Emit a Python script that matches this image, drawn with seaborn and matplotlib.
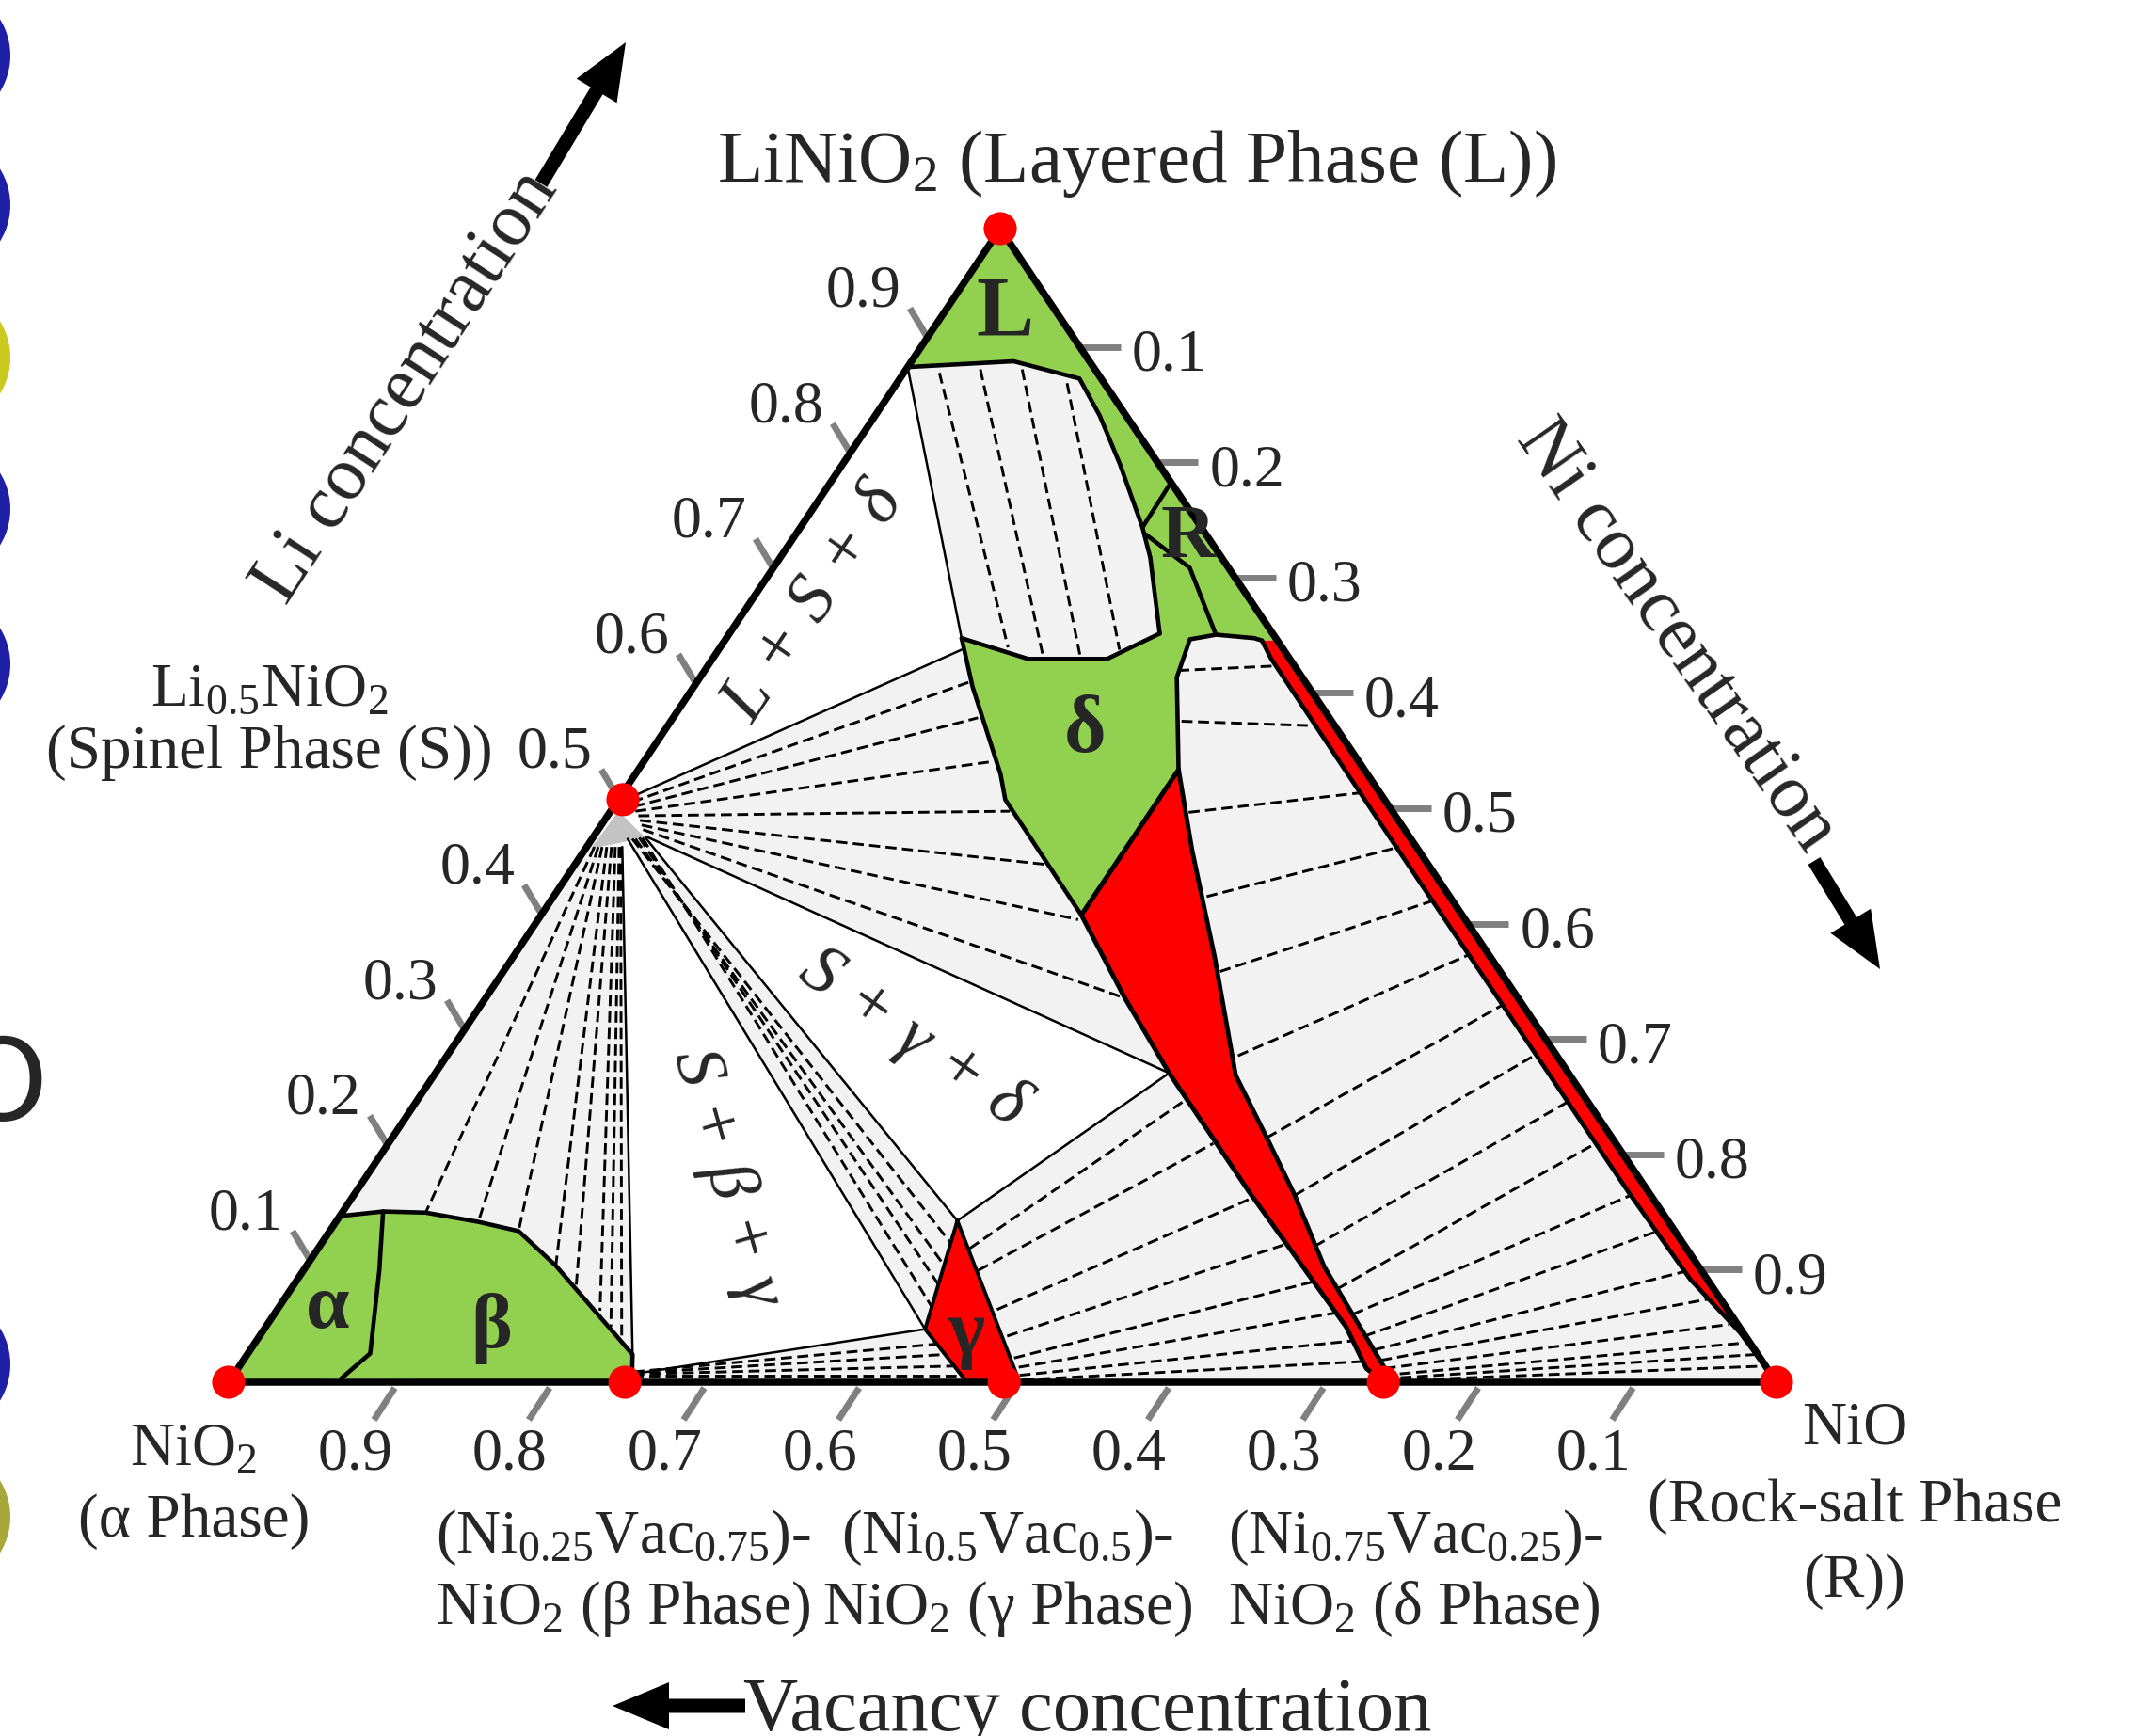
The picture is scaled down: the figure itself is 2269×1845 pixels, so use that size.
import numpy as np
import pandas as pd
import seaborn as sns
import matplotlib.pyplot as plt
from matplotlib.patches import Circle, FancyArrow

sns.set_theme(style="white")
plt.rcParams['font.family'] = ['Liberation Serif', 'DejaVu Serif']
plt.rcParams['mathtext.fontset'] = 'custom'
plt.rcParams['mathtext.rm'] = 'Liberation Serif'
plt.rcParams['mathtext.it'] = 'Liberation Serif:italic'
plt.rcParams['mathtext.bf'] = 'Liberation Serif:bold'
plt.rcParams['mathtext.default'] = 'rm'

# ---- data: compositions as (Li, Ni) fractions, vacancy = 1 - Li - Ni ----
marker_li = [1.0, 0.505, 0.0, 0.0, 0.0, 0.0, 0.0]
marker_ni = [0.0, 0.003, 0.0, 0.256, 0.501, 0.746, 1.0]

green_top = [(1.0, 0.0), (0.643, 0.357), (0.643, 0.347), (0.645, 0.341), (0.648, 0.315),
             (0.644, 0.300), (0.611, 0.308), (0.531, 0.349), (0.405, 0.349), (0.505, 0.250),
             (0.527, 0.236), (0.603, 0.180), (0.645, 0.152), (0.880, 0.0)]
green_alpha = [(0.0, 0.0), (0.144, 0.0), (0.148, 0.026), (0.097, 0.049), (0.025, 0.079), (0.003, 0.071)]
green_beta = [(0.148, 0.026), (0.147, 0.054), (0.139, 0.092), (0.131, 0.122), (0.101, 0.161),
              (0.024, 0.249), (0.001, 0.260), (0.003, 0.071), (0.025, 0.079), (0.097, 0.049)]

red_gamma = [(0.140, 0.401), (0.046, 0.427), (0.0, 0.477), (0.0, 0.511)]
red_gd = [(0.531, 0.349), (0.462, 0.392), (0.369, 0.453), (0.266, 0.518), (0.212, 0.565),
          (0.162, 0.608), (0.100, 0.658), (0.048, 0.707), (0.012, 0.741), (0.0, 0.746),
          (0.012, 0.729), (0.048, 0.698), (0.105, 0.639), (0.165, 0.577), (0.219, 0.523),
          (0.268, 0.474), (0.333, 0.413), (0.405, 0.349)]
red_edge = [(0.643, 0.347), (0.643, 0.357), (0.0, 1.0), (0.043, 0.955), (0.089, 0.900),
            (0.164, 0.823), (0.465, 0.522), (0.627, 0.361)]

gray_Sbeta = [(0.4625, 0.0), (0.144, 0.0), (0.148, 0.026), (0.147, 0.054), (0.139, 0.092),
              (0.131, 0.122), (0.101, 0.161), (0.024, 0.249), (0.464, 0.023)]
gray_betagamma = [(0.007, 0.257), (0.046, 0.427), (0.0, 0.477), (0.0, 0.261)]
gray_Sgamma = [(0.471, 0.023), (0.472, 0.034), (0.140, 0.401), (0.046, 0.427)]
gray_Sdelta = [(0.507, 0.007), (0.635, 0.157), (0.603, 0.180), (0.527, 0.236), (0.505, 0.250),
               (0.405, 0.349), (0.333, 0.413), (0.268, 0.474), (0.473, 0.034)]
gray_gd = [(0.140, 0.401), (0.268, 0.474), (0.219, 0.523), (0.165, 0.577), (0.105, 0.639),
           (0.048, 0.698), (0.012, 0.729), (0.0, 0.746), (0.0, 0.511)]
gray_Ldelta = [(0.880, 0.0), (0.885, 0.066), (0.870, 0.116), (0.838, 0.145), (0.796, 0.179),
               (0.741, 0.221), (0.715, 0.239), (0.649, 0.278), (0.627, 0.255), (0.627, 0.204),
               (0.645, 0.152)]
gray_Rdelta = [(0.644, 0.300), (0.648, 0.315), (0.645, 0.341), (0.643, 0.347), (0.627, 0.361),
               (0.465, 0.522), (0.164, 0.823), (0.089, 0.900), (0.043, 0.955), (0.0, 1.0),
               (0.0, 0.746), (0.012, 0.741), (0.048, 0.707), (0.100, 0.658), (0.162, 0.608),
               (0.212, 0.565), (0.266, 0.518), (0.369, 0.453), (0.462, 0.392), (0.531, 0.349),
               (0.611, 0.308)]
spinel_single = [(0.495, 0.005), (0.4625, 0.0035), (0.472, 0.034)]

# phase boundaries
bound_L = [(0.880, 0.0), (0.885, 0.066), (0.870, 0.116), (0.838, 0.145), (0.796, 0.179),
           (0.741, 0.221), (0.715, 0.239), (0.649, 0.278)]
bound_LR = [(0.780, 0.220), (0.741, 0.221)]
bound_Rd = [(0.735, 0.226), (0.706, 0.269), (0.649, 0.314)]
bound_dtop = [(0.645, 0.152), (0.627, 0.204), (0.627, 0.255), (0.649, 0.278)]
bound_dleft = [(0.645, 0.152), (0.603, 0.180), (0.527, 0.236), (0.505, 0.250), (0.405, 0.349)]
bound_dright = [(0.643, 0.347), (0.645, 0.341), (0.648, 0.315), (0.644, 0.300), (0.611, 0.308),
                (0.531, 0.349), (0.405, 0.349)]
bound_edge = [(0.643, 0.347), (0.627, 0.361), (0.465, 0.522), (0.164, 0.823), (0.089, 0.900),
              (0.043, 0.955), (0.0, 1.0)]
bound_ab = [(0.144, 0.0), (0.148, 0.026), (0.097, 0.049), (0.025, 0.079), (0.003, 0.071)]
bound_beta = [(0.148, 0.026), (0.147, 0.054), (0.139, 0.092), (0.131, 0.122), (0.101, 0.161),
              (0.024, 0.249), (0.001, 0.260)]

# solid tie-triangle edges
solid_start = [(0.507, 0.007), (0.473, 0.034), (0.472, 0.034), (0.471, 0.023), (0.464, 0.023),
               (0.007, 0.257), (0.140, 0.401), (0.880, 0.0)]
solid_end = [(0.635, 0.157), (0.268, 0.474), (0.140, 0.401), (0.046, 0.427), (0.024, 0.249),
             (0.046, 0.427), (0.268, 0.474), (0.645, 0.152)]

# dashed tie lines
tie_Ld_start = [(0.875, 0.023), (0.878, 0.048), (0.878, 0.075), (0.866, 0.110)]
tie_Ld_end = [(0.637, 0.186), (0.630, 0.212), (0.630, 0.236), (0.635, 0.259)]
tie_Sd_start = [(0.503, 0.010), (0.499, 0.013), (0.495, 0.016), (0.491, 0.020), (0.487, 0.023),
                (0.483, 0.026), (0.479, 0.029)]
tie_Sd_end = [(0.607, 0.176), (0.576, 0.197), (0.538, 0.225), (0.495, 0.258), (0.449, 0.303),
              (0.401, 0.349), (0.333, 0.413)]
tie_Sg_start = [(0.471, 0.026), (0.471, 0.028), (0.472, 0.030), (0.472, 0.032)]
tie_Sg_end = [(0.121, 0.406), (0.102, 0.411), (0.084, 0.417), (0.065, 0.422)]
tie_Sb_start = [(0.464, 0.005), (0.464, 0.0075), (0.464, 0.010), (0.464, 0.013), (0.464, 0.016),
                (0.464, 0.0185), (0.464, 0.021), (0.464, 0.022)]
tie_Sb_end = [(0.147, 0.054), (0.139, 0.092), (0.131, 0.122), (0.101, 0.161), (0.081, 0.184),
              (0.062, 0.209), (0.048, 0.223), (0.038, 0.235)]
tie_bg_start = [(0.009, 0.257), (0.008, 0.257), (0.007, 0.258), (0.006, 0.258)]
tie_bg_end = [(0.033, 0.440), (0.024, 0.450), (0.014, 0.461), (0.006, 0.469)]
tie_gd_start = [(0.116, 0.421), (0.097, 0.436), (0.063, 0.465), (0.040, 0.483), (0.021, 0.497),
                (0.013, 0.504), (0.006, 0.508), (0.002, 0.512)]
tie_gd_end = [(0.246, 0.497), (0.207, 0.533), (0.160, 0.582), (0.120, 0.624), (0.087, 0.657),
              (0.060, 0.685), (0.036, 0.709), (0.018, 0.724)]
tie_Rd_start = [(0.617, 0.306), (0.573, 0.330), (0.494, 0.374), (0.421, 0.422), (0.356, 0.463),
                (0.283, 0.511), (0.212, 0.565), (0.162, 0.608), (0.118, 0.643), (0.081, 0.676),
                (0.059, 0.697), (0.040, 0.714), (0.028, 0.726), (0.019, 0.735), (0.012, 0.741),
                (0.006, 0.743), (0.003, 0.745), (0.001, 0.746)]
tie_Rd_end = [(0.621, 0.368), (0.569, 0.420), (0.511, 0.477), (0.464, 0.525), (0.418, 0.571),
              (0.371, 0.617), (0.327, 0.660), (0.284, 0.703), (0.243, 0.744), (0.207, 0.780),
              (0.162, 0.825), (0.131, 0.858), (0.096, 0.893), (0.072, 0.920), (0.050, 0.944),
              (0.034, 0.962), (0.024, 0.974), (0.014, 0.985)]

tick_vals = [0.1, 0.2, 0.3, 0.4, 0.5, 0.6, 0.7, 0.8, 0.9]
tick_labels = ['0.1', '0.2', '0.3', '0.4', '0.5', '0.6', '0.7', '0.8', '0.9']

# ---- layout ----
TOP = np.array([1063.0, 243.0])    # LiNiO2
LEFT = np.array([243.0, 1469.0])   # NiO2
RIGHT = np.array([1888.0, 1469.0])  # NiO

GREEN = '#92d050'
RED = '#ff0000'
FILL = '#f2f2f2'
TICK = '#808080'


def tern(pts):
    p = np.asarray(pts, dtype=float)
    return LEFT + p[:, :1] * (TOP - LEFT) + p[:, 1:2] * (RIGHT - LEFT)


fig = plt.figure(figsize=(22.69, 18.45), dpi=100)
ax = fig.add_axes([0, 0, 1, 1])


def fill(pts, color, z):
    xy = tern(pts)
    ax.fill(xy[:, 0], xy[:, 1], color=color, lw=0, zorder=z)


def line(pts, lw, z, closed=False, **kw):
    xy = tern(pts)
    if closed:
        xy = np.vstack([xy, xy[:1]])
    ax.plot(xy[:, 0], xy[:, 1], color='black', lw=lw, zorder=z,
            solid_joinstyle='round', solid_capstyle='round', **kw)


for poly in [gray_Sbeta, gray_betagamma, gray_Sgamma, gray_Sdelta, gray_gd, gray_Rdelta]:
    fill(poly, FILL, 1)
fill(spinel_single, '#c3c3c3', 1.2)
for poly in [green_top, green_alpha, green_beta]:
    fill(poly, GREEN, 2)
for poly in [red_gamma, red_gd, red_edge]:
    fill(poly, RED, 2)
fill(gray_Ldelta, FILL, 2.2)

# dashed tie lines
for starts, ends in [(tie_Ld_start, tie_Ld_end), (tie_Sd_start, tie_Sd_end),
                     (tie_Sg_start, tie_Sg_end), (tie_Sb_start, tie_Sb_end),
                     (tie_bg_start, tie_bg_end), (tie_gd_start, tie_gd_end),
                     (tie_Rd_start, tie_Rd_end)]:
    for a, b in zip(starts, ends):
        xy = tern([a, b])
        ax.plot(xy[:, 0], xy[:, 1], color='black', lw=2.1, zorder=3,
                linestyle=(0, (4.0, 2.0)))

for a, b in zip(solid_start, solid_end):
    line([a, b], 1.8, 4)

for pl in [bound_L, bound_LR, bound_Rd, bound_dtop, bound_dleft, bound_dright,
           bound_edge, bound_ab, bound_beta]:
    line(pl, 3.3, 5)
line(red_gamma, 2.8, 5, closed=True)
line(red_gd, 3.5, 5, closed=True)

# triangle frame
line([(1.0, 0.0), (0.0, 0.0), (0.0, 1.0)], 5.4, 6, closed=True)

# ticks and tick labels
tick_kw = dict(color=TICK, lw=5, zorder=1.5, solid_capstyle='butt')
for v, s in zip(tick_vals, tick_labels):
    ex, ey = tern([(v, 0.0)])[0]
    ax.plot([ex + 4, ex - 14], [ey - 8, ey - 38], **tick_kw)
    ax.text(ex - 63, ey - 55, s, fontsize=46, ha='center', va='center', zorder=8)
    ex, ey = tern([(1 - v, v)])[0]
    ax.plot([ex - 6, ex + 45], [ey + 3, ey + 3], **tick_kw)
    ax.text(ex + 97, ey + 13, s, fontsize=46, ha='center', va='center', zorder=8)
    ex, ey = tern([(0.0, 1 - v)])[0]
    ax.plot([ex + 12, ex - 10], [ey + 6, ey + 40], **tick_kw)
    ax.text(ex - 30, ey + 78, s, fontsize=46, ha='center', va='center', zorder=8)

# phase composition markers
mxy = tern(list(zip(marker_li, marker_ni)))
markers = pd.DataFrame({'x': mxy[:, 0], 'y': mxy[:, 1]})
sns.scatterplot(data=markers, x='x', y='y', s=640, color=RED, edgecolor='none',
                legend=False, ax=ax, zorder=7)
ax.set_xlim(0, 2269)
ax.set_ylim(1845, 0)
ax.axis('off')

# composition labels
lab = dict(fontsize=47, ha='center', va='center', zorder=8)
ax.text(1208, 174, 'LiNiO$_2$ (Layered Phase (L))', fontsize=57, ha='center', va='center')
ax.text(286, 734, 'Li$_{0.5}$NiO$_2$', **lab)
ax.text(286, 800, '(Spinel Phase (S))', **lab)
ax.text(206, 1541, 'NiO$_2$', **lab)
ax.text(206, 1617, '(\u03b1 Phase)', **lab)
ax.text(663, 1634, '(Ni$_{0.25}$Vac$_{0.75}$)-', **lab)
ax.text(662, 1710, 'NiO$_2$ (\u03b2 Phase)', **lab)
ax.text(1071, 1634, '(Ni$_{0.5}$Vac$_{0.5}$)-', **lab)
ax.text(1071, 1710, 'NiO$_2$ (\u03b3 Phase)', **lab)
ax.text(1505, 1634, '(Ni$_{0.75}$Vac$_{0.25}$)-', **lab)
ax.text(1503, 1710, 'NiO$_2$ (\u03b4 Phase)', **lab)
ax.text(1971, 1519, 'NiO', **lab)
ax.text(1971, 1601, '(Rock-salt Phase', **lab)
ax.text(1971, 1681, '(R))', **lab)

# axis titles with arrows
ax.text(432, 412, 'Li concentration', fontsize=58, rotation=57, ha='center', va='center',
        rotation_mode='anchor')
ax.text(1781, 676, 'Ni concentration', fontsize=58, rotation=-55, ha='center', va='center',
        rotation_mode='anchor')
ax.text(1156, 1839, 'Vacancy concentration', fontsize=58, ha='center', va='baseline')
for (x0, y0), (x1, y1) in [((575, 195), (665, 45)), ((1928, 915), (1998, 1030)),
                           ((792, 1813), (651, 1813))]:
    ax.add_patch(FancyArrow(x0, y0, x1 - x0, y1 - y0, width=15, head_width=50,
                            head_length=60, length_includes_head=True, color='black', lw=0))

# phase names
ax.text(1068, 335, 'L', fontsize=66, fontweight='bold', ha='center', va='center', zorder=8)
ax.text(1263, 572, 'R', fontsize=58, fontweight='bold', ha='center', va='center', zorder=8)
ax.text(1153, 778, '\u03b4', fontsize=62, fontweight='bold', ha='center', va='center', zorder=8)
ax.text(1027, 1418, '\u03b3', fontsize=60, fontweight='bold', ha='center', va='center', zorder=8)
ax.text(348, 1392, '\u03b1', fontsize=60, fontweight='bold', ha='center', va='center', zorder=8)
ax.text(522, 1412, '\u03b2', fontsize=60, fontweight='bold', ha='center', va='center', zorder=8)

# three-phase region labels
reg = dict(fontsize=54, style='italic', ha='center', va='center', rotation_mode='anchor', zorder=8)
ax.text(866, 641, 'L + S + \u03b4', rotation=56, **reg)
ax.text(970, 1104, 'S + \u03b3 + \u03b4', rotation=-35, **reg)
ax.text(772, 1252, 'S + \u03b2 + \u03b3', rotation=-74, **reg)

# fragments of the neighbouring panel at the left border
for yc, col in [(59, '#1f1fa6'), (218, '#1f1fa6'), (380, '#c9c91e'), (541, '#1f1fa6'),
                (706, '#1f1fa6'), (1450, '#1f1fa6'), (1612, '#a8a83a')]:
    ax.add_patch(Circle((-62, yc), 73, color=col, lw=0))
ax.text(2, 1157, 'O', fontsize=88, family='DejaVu Sans', ha='center', va='center')

fig.savefig('out.png', dpi=100)
